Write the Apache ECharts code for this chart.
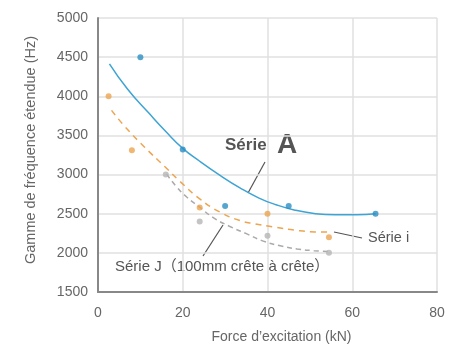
<!DOCTYPE html>
<html><head><meta charset="utf-8">
<script src="https://cdn.jsdelivr.net/npm/echarts@6/dist/echarts.min.js"></script>
<style>html,body{margin:0;padding:0;background:#fff}#c{width:449px;height:346px}</style>
</head><body><div id="c"></div>
<script>
// Measured points
const serieA = [[10,4500],[20,3320],[30,2600],[45,2600],[65.5,2500]];
const serieI = [[2.5,4000],[8,3310],[24,2580],[40,2500],[54.5,2200]];
const serieJ = [[16,3000],[24,2400],[40,2220],[54.5,2000]];
// Trend curves
const trendA = [[2.7,4415],[7,4090],[12,3785],[16,3550],[20,3335],[24,3170],[28.8,2990],[33.5,2830],[38,2700],[42,2615],[46.5,2545],[51,2503],[56,2487],[61,2487],[65.5,2500]];
const trendI = [[3.2,3820],[6.4,3610],[11,3350],[15.8,3100],[19.4,2910],[24,2690],[28.8,2520],[33.5,2413],[37,2371],[41.8,2328],[46.5,2290],[51.2,2268],[54.5,2265]];
const trendJ = [[16.2,3005],[18.6,2840],[21,2710],[24,2583],[27.2,2450],[31,2340],[35,2245],[39,2150],[43,2090],[47,2050],[51,2028],[54.5,2015]];
const xTicks = [0,20,40,60,80];
const yTicks = [1500,2000,2500,3000,3500,4000,4500,5000];

const FONT = 'Liberation Sans';
const BLUE = '#3da4d4', BLUE_DOT = '#2b8fc3', ORANGE = '#eca551', GRAY = '#b5b5b5';
const chart = echarts.init(document.getElementById('c'), null, {renderer:'canvas'});
function scatter(data,color){return {type:'scatter',data:data,symbolSize:6,itemStyle:{color:color},z:5};}
function trend(data,color,dash){return {type:'line',data:data,smooth:0.5,symbol:'none',lineStyle:{color:color,width:1.5,type:dash||'solid'},z:3};}
chart.setOption({
  animation:false,
  textStyle:{fontFamily:FONT},
  grid:{left:98,right:12,top:18,bottom:54,containLabel:false,outerBoundsMode:'none'},
  xAxis:{type:'value',min:xTicks[0],max:xTicks[xTicks.length-1],interval:20,
    name:'Force d\u2019excitation (kN)',nameLocation:'middle',nameGap:38,
    nameTextStyle:{color:'#666',fontSize:14,fontFamily:FONT,padding:[0,0,0,28]},
    axisLine:{show:true,lineStyle:{color:'#888',width:2}},axisTick:{show:false},
    axisLabel:{color:'#666',fontSize:14,margin:14,fontFamily:FONT,formatter:v=>String(v)},
    splitLine:{show:true,lineStyle:{color:'#e0e0e0',width:1.5}}},
  yAxis:{type:'value',min:yTicks[0],max:yTicks[yTicks.length-1],interval:500,
    name:'Gamme de fr\u00e9quence \u00e9tendue (Hz)',nameLocation:'middle',nameGap:60,nameRotate:90,
    nameTextStyle:{color:'#666',fontSize:14.5,fontFamily:FONT,padding:[0,0,0,10]},
    axisLine:{show:true,lineStyle:{color:'#888',width:2}},axisTick:{show:false},
    axisLabel:{color:'#666',fontSize:14,margin:10,fontFamily:FONT,formatter:v=>String(v)},
    splitLine:{show:true,lineStyle:{color:'#e0e0e0',width:1.5}}},
  series:[
    trend(trendJ,'#aaaaaa',[5,4]),
    trend(trendI,ORANGE,[6,5]),
    trend(trendA,BLUE),
    scatter(serieJ,GRAY),
    scatter(serieI,ORANGE),
    scatter(serieA,BLUE_DOT)
  ],
  graphic:[
    {type:'text',left:225,top:137,style:{text:'S\u00e9rie',fill:'#555',font:'bold 17px "Liberation Sans"'}},
    {type:'text',left:277,top:131,style:{text:'A',fill:'#555',font:'bold 28px "Liberation Sans"'}},
    {type:'line',shape:{x1:265,y1:162,x2:248,y2:193},style:{stroke:'#555',lineWidth:1.2}},
    {type:'text',left:368,top:230,style:{text:'S\u00e9rie i',fill:'#555',font:'14.5px "Liberation Sans"'}},
    {type:'line',shape:{x1:334,y1:232,x2:362,y2:238},style:{stroke:'#555',lineWidth:1.2}},
    {type:'text',left:115,top:259,style:{text:'S\u00e9rie J\uff08100mm cr\u00eate \u00e0 cr\u00eate\uff09',fill:'#555',font:'15px "Liberation Sans", "Noto Sans CJK JP"'}},
    {type:'line',shape:{x1:223,y1:225,x2:203,y2:256},style:{stroke:'#555',lineWidth:1.2}}
  ]
});
</script></body></html>
